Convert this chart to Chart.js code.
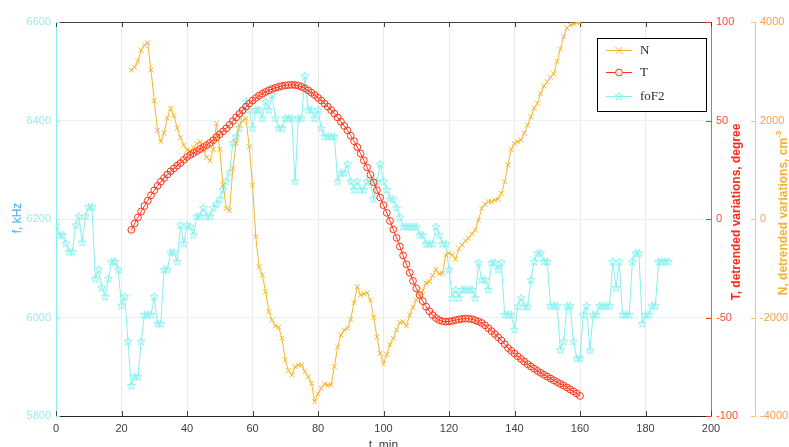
<!DOCTYPE html>
<html><head><meta charset="utf-8">
<script src="https://cdn.jsdelivr.net/npm/chart.js@4/dist/chart.umd.min.js"></script>
<style>html,body{margin:0;padding:0;background:#fff;}#wrap{width:789px;height:447px;position:relative;overflow:hidden;}</style>
</head><body><div id="wrap"><canvas id="c" width="789" height="447"></canvas></div>
<script>
// ---- data ----
const foF2Times = [0,1,2,3,4,5,6,7,8,9,10,11,12,13,14,15,16,17,18,19,20,21,22,23,24,25,26,27,28,29,30,31,32,33,34,35,36,37,38,39,40,41,42,43,44,45,46,47,48,49,50,51,52,53,54,55,56,57,58,59,60,61,62,63,64,65,66,67,68,69,70,71,72,73,74,75,76,77,78,79,80,81,82,83,84,85,86,87,88,89,90,91,92,93,94,95,96,97,98,99,100,101,102,103,104,105,106,107,108,109,110,111,112,113,114,115,116,117,118,119,120,121,122,123,124,125,126,127,128,129,130,131,132,133,134,135,136,137,138,139,140,141,142,143,144,145,146,147,148,149,150,151,152,153,154,155,156,157,158,159,160,161,162,163,164,165,166,167,168,169,170,171,172,173,174,175,176,177,178,179,180,181,182,183,184,185,186,187];
const foF2Values = [6187,6167,6167,6150,6133,6133,6187,6205,6152,6205,6224,6224,6078,6097,6060,6042,6078,6113,6113,6097,6024,6042,5951,5861,5879,5879,5951,6005,6005,6005,6042,5987,5987,6097,6097,6132,6132,6113,6187,6150,6187,6184,6167,6205,6205,6222,6205,6205,6222,6230,6240,6259,6276,6294,6354,6367,6384,6421,6438,6421,6384,6421,6421,6404,6438,6421,6452,6404,6384,6384,6404,6404,6404,6276,6404,6404,6490,6421,6421,6404,6421,6384,6367,6367,6367,6367,6276,6293,6293,6311,6276,6259,6276,6259,6259,6276,6276,6240,6276,6311,6276,6259,6240,6240,6222,6203,6184,6184,6184,6184,6184,6167,6167,6149,6149,6149,6184,6167,6149,6149,6097,6039,6056,6039,6056,6056,6056,6056,6039,6111,6076,6076,6056,6111,6111,6097,6111,6005,6005,6005,5975,6022,6039,6022,6022,6076,6113,6130,6130,6113,6113,6023,6023,6023,5934,5951,6023,6023,5951,5917,5917,6005,6023,5933,6005,6005,6023,6023,6023,6023,6113,6060,6113,6005,6005,6005,6113,6130,6130,5987,6005,6005,6023,6023,6113,6113,6113,6113];

const tnTimes = [23,24,25,26,27,28,29,30,31,32,33,34,35,36,37,38,39,40,41,42,43,44,45,46,47,48,49,50,51,52,53,54,55,56,57,58,59,60,61,62,63,64,65,66,67,68,69,70,71,72,73,74,75,76,77,78,79,80,81,82,83,84,85,86,87,88,89,90,91,92,93,94,95,96,97,98,99,100,101,102,103,104,105,106,107,108,109,110,111,112,113,114,115,116,117,118,119,120,121,122,123,124,125,126,127,128,129,130,131,132,133,134,135,136,137,138,139,140,141,142,143,144,145,146,147,148,149,150,151,152,153,154,155,156,157,158,159,160];
const tValues = [-5.5,-2.3,0.8,3.8,6.6,9.3,12.0,14.5,16.8,18.9,20.8,22.6,24.2,25.7,27.1,28.4,30.0,31.5,32.5,33.5,34.5,35.5,36.5,37.5,38.6,40.0,41.5,43.0,44.5,46.0,47.8,49.7,51.6,53.4,55.2,57.0,58.6,60.1,61.4,62.6,63.6,64.5,65.3,66.0,66.6,67.1,67.5,67.8,68.0,68.1,68.0,67.7,67.1,66.3,65.3,64.1,62.9,61.5,60.1,58.6,57.0,55.3,53.5,51.5,49.4,47.2,45.0,42.3,39.5,36.5,33.2,29.8,26.2,22.5,18.6,14.7,10.9,7.0,3.1,-1.0,-5.3,-9.6,-14.0,-18.5,-23.0,-27.3,-31.4,-35.2,-38.6,-41.7,-44.5,-46.8,-48.8,-50.3,-51.3,-51.9,-52.1,-52.0,-51.7,-51.3,-51.0,-50.7,-50.6,-50.6,-50.9,-51.4,-52.0,-52.8,-54.0,-55.4,-56.9,-58.4,-60.0,-61.6,-63.5,-65.5,-66.9,-68.3,-69.7,-71.1,-72.4,-73.7,-74.9,-76.0,-77.1,-78.1,-79.1,-80.0,-81.0,-81.9,-82.8,-83.7,-84.6,-85.5,-86.5,-87.5,-88.6,-89.8];
const nValues = [3025,3080,3200,3430,3530,3579,3025,2400,1800,1569,1750,2050,2247,2100,1850,1650,1500,1400,1380,1450,1530,1569,1400,1250,1184,1415,1943,1415,690,217,168,1029,1537,1908,2000,2044,1468,690,-359,-968,-1137,-1475,-1882,-2050,-2172,-2200,-2422,-2862,-3079,-3167,-2998,-2964,-2964,-3100,-3200,-3336,-3709,-3550,-3437,-3350,-3370,-3370,-2998,-2600,-2355,-2253,-2220,-2037,-1700,-1374,-1543,-1520,-1495,-1644,-1996,-2400,-2727,-2943,-2750,-2550,-2422,-2250,-2100,-2085,-2172,-1949,-1793,-1650,-1577,-1450,-1300,-1272,-1150,-1021,-1117,-1103,-731,-696,-731,-818,-600,-528,-440,-392,-300,-223,-20,217,300,352,352,386,400,522,757,1097,1415,1537,1569,1604,1740,1908,2077,2247,2350,2550,2700,2787,2876,2950,3200,3450,3700,3880,3938,3959,3985,3990];

const xTickStep = 20, fTickStep = 200, tTickStep = 50, nTickStep = 2000;
const legendLabels = ['N', 'T', 'foF2'];

// ---- styles ----
const C_N = '#f4b62a', C_T = '#ff3216', C_F = '#86f0ee';
Chart.defaults.font.family = "'Liberation Sans', Arial, sans-serif";
Chart.defaults.font.size = 11;
const plain = v => String(v);

function starCanvas(color, r) {
  const s = Math.ceil(r * 2 + 3);
  const c = document.createElement('canvas'); c.width = s; c.height = s;
  const g = c.getContext('2d');
  g.strokeStyle = color; g.lineWidth = 1;
  g.beginPath();
  for (let i = 0; i < 10; i++) {
    const ang = -Math.PI / 2 + i * Math.PI / 5;
    const rr = i % 2 === 0 ? r : r * 0.42;
    const px = s / 2 + rr * Math.cos(ang), py = s / 2 + rr * Math.sin(ang);
    if (i) g.lineTo(px, py); else g.moveTo(px, py);
  }
  g.closePath(); g.stroke();
  return c;
}
const star = starCanvas(C_F, 4.2);

const decor = {
  id: 'decor',
  beforeDatasetsDraw(chart) {
    const ctx = chart.ctx, a = chart.chartArea;
    const sx = chart.scales.x, sT = chart.scales.yT, sN = chart.scales.yN, sF = chart.scales.yF;
    ctx.save();
    ctx.lineWidth = 1;
    ctx.strokeStyle = '#444';
    ctx.beginPath(); ctx.moveTo(a.left, a.top + 0.5); ctx.lineTo(a.right, a.top + 0.5); ctx.stroke();
    sx.ticks.forEach(t => {
      const px = Math.round(sx.getPixelForValue(t.value)) + 0.5;
      ctx.beginPath(); ctx.moveTo(px, a.bottom); ctx.lineTo(px, a.bottom - 5);
      ctx.moveTo(px, a.top); ctx.lineTo(px, a.top + 5); ctx.stroke();
    });
    ctx.strokeStyle = C_T;
    sT.ticks.forEach(t => {
      const py = Math.round(sT.getPixelForValue(t.value)) + 0.5;
      ctx.beginPath(); ctx.moveTo(a.right - 5, py); ctx.lineTo(a.right, py); ctx.stroke();
    });
    ctx.strokeStyle = '#f5c870';
    sN.ticks.forEach(t => {
      const py = Math.round(sN.getPixelForValue(t.value)) + 0.5;
      ctx.beginPath(); ctx.moveTo(sN.left - 4, py); ctx.lineTo(sN.left, py); ctx.stroke();
    });
    ctx.strokeStyle = C_F;
    sF.ticks.forEach(t => {
      const py = Math.round(sF.getPixelForValue(t.value)) + 0.5;
      ctx.beginPath(); ctx.moveTo(a.left, py); ctx.lineTo(a.left + 4, py); ctx.stroke();
    });
    ctx.restore();
  },
  afterDraw(chart) {
    const ctx = chart.ctx, a = chart.chartArea;
    ctx.save();
    ctx.textAlign = 'center'; ctx.textBaseline = 'middle';
    ctx.font = "12px 'Liberation Sans', Arial, sans-serif";
    ctx.fillStyle = '#45aef0';
    ctx.save(); ctx.translate(18, 218); ctx.rotate(-Math.PI / 2); ctx.fillText('f, kHz', 0, 0); ctx.restore();

    ctx.font = "bold 12px 'Liberation Sans', Arial, sans-serif";
    ctx.fillStyle = '#ff2a1a';
    ctx.save(); ctx.translate(737, 212); ctx.rotate(-Math.PI / 2); ctx.fillText('T, detrended variations, degree', 0, 0); ctx.restore();

    ctx.fillStyle = '#f5b232';
    ctx.save(); ctx.translate(784, 213); ctx.rotate(-Math.PI / 2);
    const main = 'N, detrended variations, cm';
    ctx.font = "bold 12px 'Liberation Sans', Arial, sans-serif";
    const w1 = ctx.measureText(main).width;
    ctx.font = "bold 8px 'Liberation Sans', Arial, sans-serif";
    const w2 = ctx.measureText('-3').width;
    const x0 = -(w1 + w2) / 2;
    ctx.textAlign = 'left';
    ctx.font = "bold 12px 'Liberation Sans', Arial, sans-serif";
    ctx.fillText(main, x0, 0);
    ctx.font = "bold 8px 'Liberation Sans', Arial, sans-serif";
    ctx.fillText('-3', x0 + w1, -5);
    ctx.restore();

    ctx.textAlign = 'center'; ctx.textBaseline = 'alphabetic';
    ctx.font = "12px 'Liberation Sans', Arial, sans-serif";
    ctx.fillStyle = '#404040';
    ctx.fillText('t, min', (a.left + a.right) / 2, 449);

    // legend
    const bx = 597, by = 38, bw = 109, bh = 73;
    ctx.fillStyle = '#fff'; ctx.fillRect(bx, by, bw, bh);
    ctx.strokeStyle = '#000'; ctx.lineWidth = 1; ctx.strokeRect(bx + 0.5, by + 0.5, bw, bh);
    const rows = [50, 72, 96], cols = [C_N, C_T, C_F];
    ctx.font = "13px 'Liberation Serif', 'Times New Roman', serif";
    ctx.textAlign = 'left'; ctx.textBaseline = 'middle';
    rows.forEach((ry, i) => {
      ctx.strokeStyle = cols[i];
      ctx.beginPath(); ctx.moveTo(606, ry + 0.5); ctx.lineTo(632, ry + 0.5); ctx.stroke();
      const mx = 619, my = ry + 0.5;
      if (i === 0) {
        ctx.beginPath(); ctx.moveTo(mx - 3.5, my - 3.5); ctx.lineTo(mx + 3.5, my + 3.5);
        ctx.moveTo(mx + 3.5, my - 3.5); ctx.lineTo(mx - 3.5, my + 3.5); ctx.stroke();
      } else if (i === 1) {
        ctx.fillStyle = '#fff';
        ctx.beginPath(); ctx.arc(mx, my, 3.4, 0, Math.PI * 2); ctx.fill(); ctx.stroke();
      } else {
        ctx.drawImage(star, mx - star.width / 2, my - star.height / 2);
      }
      ctx.fillStyle = '#2a2a2a';
      ctx.fillText(legendLabels[i], 640, ry + 1);
    });
    ctx.restore();
  }
};

new Chart(document.getElementById('c'), {
  type: 'line',
  data: {
    datasets: [
      { label: 'T', data: tnTimes.map((t, i) => ({ x: t, y: tValues[i] })), yAxisID: 'yT',
        borderColor: C_T, borderWidth: 1, pointStyle: 'circle', pointRadius: 3.4,
        pointBorderColor: C_T, pointBackgroundColor: 'rgba(0,0,0,0)', pointBorderWidth: 1,
        tension: 0, order: 0 },
      { label: 'N', data: tnTimes.map((t, i) => ({ x: t, y: nValues[i] })), yAxisID: 'yN',
        borderColor: C_N, borderWidth: 1, pointStyle: 'crossRot', pointRadius: 3.5,
        pointBorderColor: C_N, pointBorderWidth: 1, tension: 0, order: 1 },
      { label: 'foF2', data: foF2Times.map((t, i) => ({ x: t, y: foF2Values[i] })), yAxisID: 'yF',
        borderColor: C_F, borderWidth: 1, pointStyle: star, pointRadius: 4,
        tension: 0, order: 2 }
    ]
  },
  options: {
    responsive: false, animation: false, devicePixelRatio: 1,
    layout: { padding: { top: 22, left: 0, right: 0, bottom: 0 } },
    plugins: { legend: { display: false }, tooltip: { enabled: false } },
    scales: {
      x: { type: 'linear', position: 'bottom', min: 0, max: 200,
        ticks: { stepSize: xTickStep, color: '#404040', padding: 6, maxRotation: 0, autoSkip: false, callback: plain },
        grid: { color: '#ebebeb', drawTicks: false }, border: { color: '#262626' },
        afterFit: s => { s.height = 31; } },
      yF: { type: 'linear', position: 'left', min: 5800, max: 6600,
        ticks: { stepSize: fTickStep, color: '#96eeee', padding: 5, callback: plain },
        grid: { color: '#e6f6f6', drawTicks: false }, border: { color: C_F },
        afterFit: s => { s.width = 56; } },
      yT: { type: 'linear', position: 'right', min: -100, max: 100,
        ticks: { stepSize: tTickStep, color: '#ff4d2e', padding: 5, callback: plain },
        grid: { display: false, drawTicks: false }, border: { color: '#ff5a3a' },
        afterFit: s => { s.width = 44; } },
      yN: { type: 'linear', position: 'right', min: -4000, max: 4000,
        ticks: { stepSize: nTickStep, color: '#f5a04d', padding: 5, callback: plain },
        grid: { display: false, drawTicks: false }, border: { color: '#f5c870' },
        afterFit: s => { s.width = 34; } }
    }
  },
  plugins: [decor]
});
</script>
</body></html>
